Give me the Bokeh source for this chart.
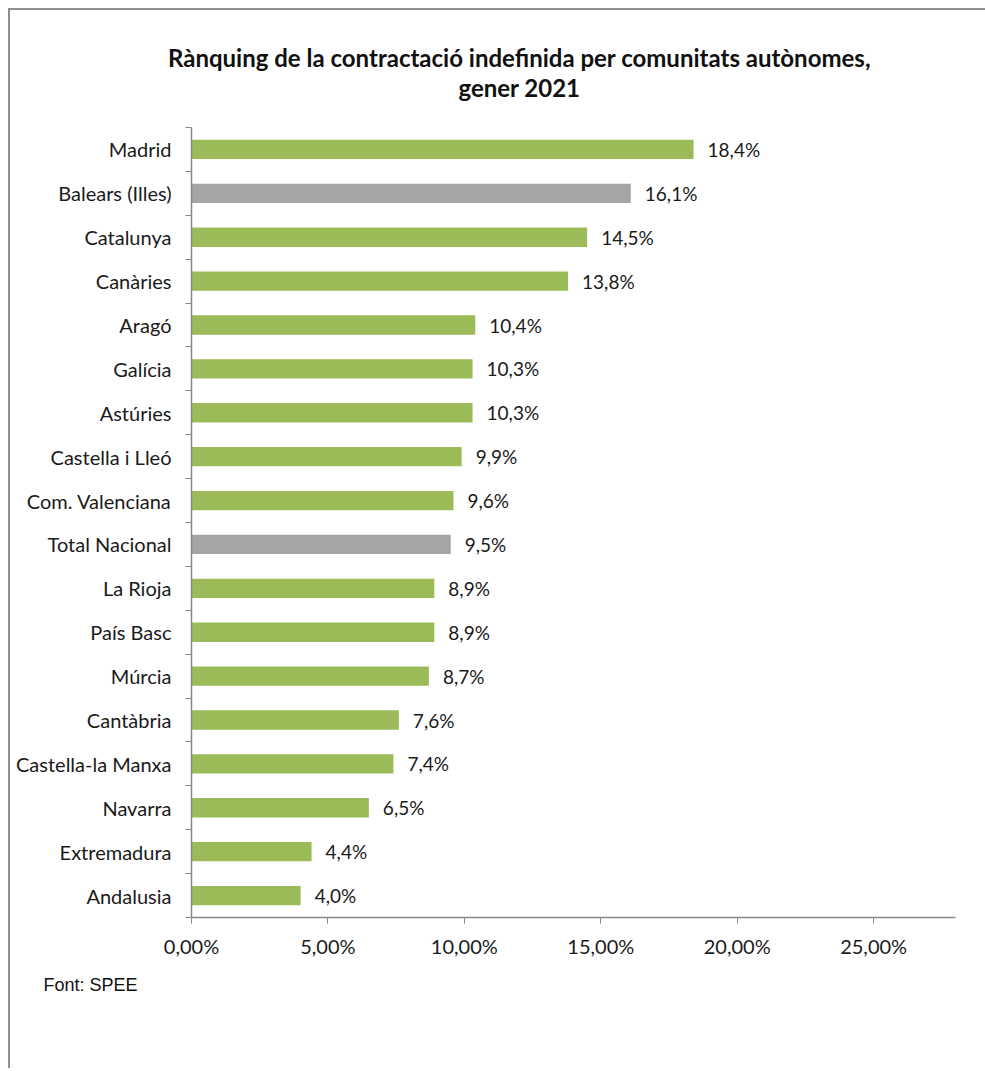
from bokeh.plotting import figure
from bokeh.layouts import column
from bokeh.models import FixedTicker, CustomJSTickFormatter, ColumnDataSource, Title, Label, Range1d
from bokeh.core.properties import value
from bokeh.embed import file_html
from bokeh.resources import INLINE

categories = ["Madrid", "Balears (Illes)", "Catalunya", "Canàries", "Aragó", "Galícia",
              "Astúries", "Castella i Lleó", "Com. Valenciana", "Total Nacional", "La Rioja",
              "País Basc", "Múrcia", "Cantàbria", "Castella-la Manxa", "Navarra",
              "Extremadura", "Andalusia"]
values = [18.4, 16.1, 14.5, 13.8, 10.4, 10.3, 10.3, 9.9, 9.6, 9.5, 8.9, 8.9, 8.7, 7.6,
          7.4, 6.5, 4.4, 4.0]
highlighted = ["Balears (Illes)", "Total Nacional"]
x_ticks = [0, 5, 10, 15, 20, 25]

title_lines = ["Rànquing de la contractació indefinida per comunitats autònomes,", "gener 2021"]
source_note = "Font: SPEE"

GREEN = "#9BBB59"
GRAY = "#A5A5A5"
AXIS = "#868686"
FONT = "Lato"
TXT = "#1a1a1a"

n = len(categories)
ys = [n - 1 - i for i in range(n)]
colors = [GRAY if c in highlighted else GREEN for c in categories]
labels = [f"{v:.1f}".replace(".", ",") + "%" for v in values]

src = ColumnDataSource(dict(y=ys, v=values, c=colors, lbl=labels))

W = 975
TH = 117      # title band height
H = 941       # main chart height

# ---- title band (its plot frame covers the whole band) ----
tp = figure(width=W, height=TH, output_backend="svg", toolbar_location=None,
            x_range=Range1d(0, 1), y_range=Range1d(0, 1),
            x_axis_location=None, y_axis_location=None,
            min_border_left=0, min_border_right=0, min_border_top=0, min_border_bottom=0)
tx = 509
try:
    tp.frame_align = False
except Exception:
    tx = 328
tp.outline_line_color = None
tp.xgrid.visible = False
tp.ygrid.visible = False
tp.add_layout(Label(x=tx, y=70, x_units="screen", y_units="screen", text=title_lines[0],
                    text_align="center", text_baseline="middle", text_font=FONT,
                    text_font_size="24px", text_font_style="bold", text_color="#111111"))
tp.add_layout(Label(x=tx, y=40, x_units="screen", y_units="screen", text=title_lines[1],
                    text_align="center", text_baseline="middle", text_font=FONT,
                    text_font_size="24px", text_font_style="bold", text_color="#111111"))

# ---- main chart ----
p = figure(width=W, height=H, output_backend="svg", toolbar_location=None,
           x_range=Range1d(0, 28), y_range=Range1d(-0.5, n - 0.5),
           min_border_left=181, min_border_right=30, min_border_top=0, min_border_bottom=151)
p.outline_line_color = None
p.xgrid.visible = False
p.ygrid.visible = False

p.hbar(y="y", right="v", left=0, height=0.44, color="c", line_color=None, source=src)
p.text(x="v", y="y", text="lbl", source=src, x_offset=14, text_baseline="middle",
       text_align="left", text_font=value(FONT), text_font_size="19px", text_color=TXT)

# x axis
xa = p.xaxis[0]
xa.ticker = FixedTicker(ticks=x_ticks, minor_ticks=[])
xa.formatter = CustomJSTickFormatter(code="return tick.toFixed(2).replace('.', ',') + '%';")
xa.axis_line_color = AXIS
xa.axis_line_width = 1.5
xa.major_tick_line_color = AXIS
xa.major_tick_out = 6
xa.major_tick_in = 0
xa.major_label_standoff = 10
xa.major_label_text_font = FONT
xa.major_label_text_font_size = "20px"
xa.major_label_text_color = TXT

# y axis
ya = p.yaxis[0]
ya.ticker = FixedTicker(ticks=ys, minor_ticks=[y + 0.5 for y in range(-1, n)])
ya.major_label_overrides = {y: c for y, c in zip(ys, categories)}
ya.axis_line_color = AXIS
ya.axis_line_width = 1.5
ya.major_tick_line_color = None
ya.major_tick_out = 0
ya.major_tick_in = 0
ya.minor_tick_line_color = AXIS
ya.minor_tick_out = 6
ya.minor_tick_in = 0
ya.major_label_standoff = 14
ya.major_label_text_font = FONT
ya.major_label_text_font_size = "20px"
ya.major_label_text_color = TXT

p.add_layout(Title(text=source_note, align="left", offset=-148, standoff=24,
                   text_font="Liberation Sans", text_font_size="18px", text_font_style="normal",
                   text_color="#111111"), "below")

layout = column(tp, p, spacing=0,
                styles={"margin-left": "8px", "margin-top": "8px",
                        "border-left": "2px solid #8f8f8f", "border-top": "2px solid #8f8f8f"})

open("out.html", "w").write(file_html(layout, INLINE))
